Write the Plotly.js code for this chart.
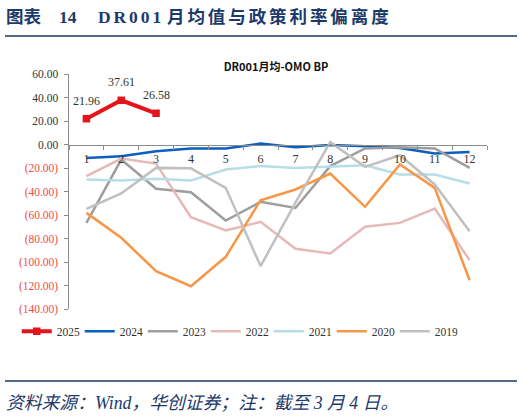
<!DOCTYPE html>
<html>
<head>
<meta charset="utf-8">
<script src="https://cdn.plot.ly/plotly-3.0.1.min.js"></script>
<style>
  html, body { margin: 0; padding: 0; background: #fff; }
  #plot { width: 524px; height: 416px; }
</style>
</head>
<body>
<div id="plot"></div>
<script>
// months on the x axis
const months = ['1', '2', '3', '4', '5', '6', '7', '8', '9', '10', '11', '12'];

// DR001 monthly average minus OMO rate, bp
const y2025 = [21.96, 37.61, 26.58];
const y2024 = [-11.4, -9.9, -5.7, -3.4, -3.4, 0.8, -2.3, -0.5, -1.4, -3.0, -7.7, -6.3];
const y2023 = [-66.7, -12.8, -37.7, -40.6, -64.7, -48.8, -54.0, -18.4, -3.4, -2.3, -3.4, -19.9];
const y2022 = [-27.0, -12.0, -16.2, -61.9, -73.2, -65.8, -88.8, -92.8, -70.0, -66.7, -54.5, -98.4];
const y2021 = [-29.8, -30.6, -29.2, -30.6, -21.3, -18.4, -19.9, -19.0, -17.6, -25.5, -25.5, -33.2];
const y2020 = [-58.2, -79.4, -107.8, -120.6, -95.6, -47.4, -38.3, -24.7, -53.0, -17.0, -36.9, -115.5];
const y2019 = [-54.7, -41.7, -19.9, -20.3, -36.9, -103.5, -49.4, 2.0, -19.0, -9.1, -34.0, -73.8];

const yTickVals = [60, 40, 20, 0, -20, -40, -60, -80, -100, -120, -140];

const navy = '#1b3a6b';
const serif = '"Liberation Serif", "Times New Roman", serif';
const cjk = '"Liberation Serif", "Noto Sans CJK SC", serif';

const yTickText = yTickVals.map(v => v >= 0
  ? v.toFixed(2)
  : '<span style="color:#f24b4b">(' + Math.abs(v).toFixed(2) + ')</span>');

function line(name, y, color, width) {
  return {
    x: months.slice(0, y.length), y: y, name: name,
    type: 'scatter', mode: 'lines',
    line: {color: color, width: width || 2.5}
  };
}

const data = [
  {
    x: months.slice(0, y2025.length), y: y2025, name: '2025',
    type: 'scatter', mode: 'lines+markers',
    line: {color: '#e5141b', width: 4},
    marker: {color: '#e5141b', size: 7.5, symbol: 'square'}
  },
  line('2024', y2024, '#0a5fbf'),
  line('2023', y2023, '#9e9e9e'),
  line('2022', y2022, '#e6b9b8'),
  line('2021', y2021, '#b7dde8'),
  line('2020', y2020, '#f79646'),
  line('2019', y2019, '#c0c0c0')
];

// value labels on the 2025 series (x as category index)
const labels = y2025.map((v, i) => ({
  x: i, y: v, xref: 'x', yref: 'y',
  text: v.toFixed(2), showarrow: false, yshift: 18,
  font: {family: serif, size: 12, color: '#333'}
}));

// header pieces, spaced out like the report's heading
const sp = '\u2006';
const spaced = s => s.split('').join(sp);
const header = [
  {text: '图表', px: 4},
  {text: '14', px: 57},
  {text: spaced('DR001'), px: 96},
  {text: spaced('月均值与政策利率偏离度'), px: 165}
];

const px2x = px => (px - 69) / 418;
const py2y = py => (309 - py) / 235;

const layout = {
  width: 524, height: 416,
  margin: {l: 69, r: 37, t: 74, b: 107},
  paper_bgcolor: '#fff', plot_bgcolor: '#fff',
  showlegend: true,
  title: {
    text: '<b>DR001月均-OMO BP</b>',
    x: 276 / 524, xref: 'container', xanchor: 'center',
    y: 1 - 67 / 416, yref: 'container', yanchor: 'middle',
    font: {family: '"Noto Sans CJK SC", "Noto Sans", sans-serif', size: 11, color: '#111'}
  },
  xaxis: {
    type: 'category', categoryarray: months, range: [-0.5, 11.5],
    anchor: 'free', position: 0.7,
    showline: true, linecolor: '#8c8c8c', linewidth: 1.5,
    ticks: 'outside', tickson: 'boundaries', ticklen: 4, tickcolor: '#8c8c8c', tickwidth: 1,
    ticklabelstandoff: 3,
    showgrid: false, zeroline: false,
    tickfont: {family: serif, size: 12, color: '#333'}
  },
  yaxis: {
    range: [-140, 60], domain: [0, 1],
    tickvals: yTickVals, ticktext: yTickText,
    showline: true, linecolor: '#8c8c8c', linewidth: 1.5,
    ticks: 'outside', ticklen: 4, tickcolor: '#8c8c8c',
    ticklabelstandoff: 3,
    showgrid: false, zeroline: false,
    tickfont: {family: serif, size: 11.5, color: '#333'}
  },
  legend: {
    orientation: 'h', x: -0.125, xanchor: 'left', y: -0.033, yanchor: 'top',
    font: {family: serif, size: 11.5, color: '#333'},
    entrywidth: 18, entrywidthmode: 'pixels', tracegroupgap: 0
  },
  shapes: [
    {type: 'line', xref: 'paper', yref: 'paper', x0: px2x(5), x1: px2x(517),
     y0: py2y(36), y1: py2y(36), line: {color: navy, width: 1.5}},
    {type: 'line', xref: 'paper', yref: 'paper', x0: px2x(5), x1: px2x(517),
     y0: py2y(381), y1: py2y(381), line: {color: navy, width: 1.5}}
  ],
  annotations: labels.concat(header.map(h => ({
    xref: 'paper', yref: 'paper', x: px2x(h.px), y: py2y(17),
    xanchor: 'left', yanchor: 'middle', showarrow: false,
    text: '<b>' + h.text + '</b>',
    font: {family: cjk, size: 17.5, color: navy}
  }))).concat([
    {xref: 'paper', yref: 'paper', x: px2x(4), y: py2y(403),
     xanchor: 'left', yanchor: 'middle', showarrow: false,
     text: '<i>资料来源：Wind，华创证券；注：截至\u00a03\u00a0月\u00a04\u00a0日。</i>',
     font: {family: cjk, size: 17.8, color: navy}}
  ])
};

Plotly.newPlot('plot', data, layout, {displayModeBar: false, staticPlot: true});
</script>
</body>
</html>
